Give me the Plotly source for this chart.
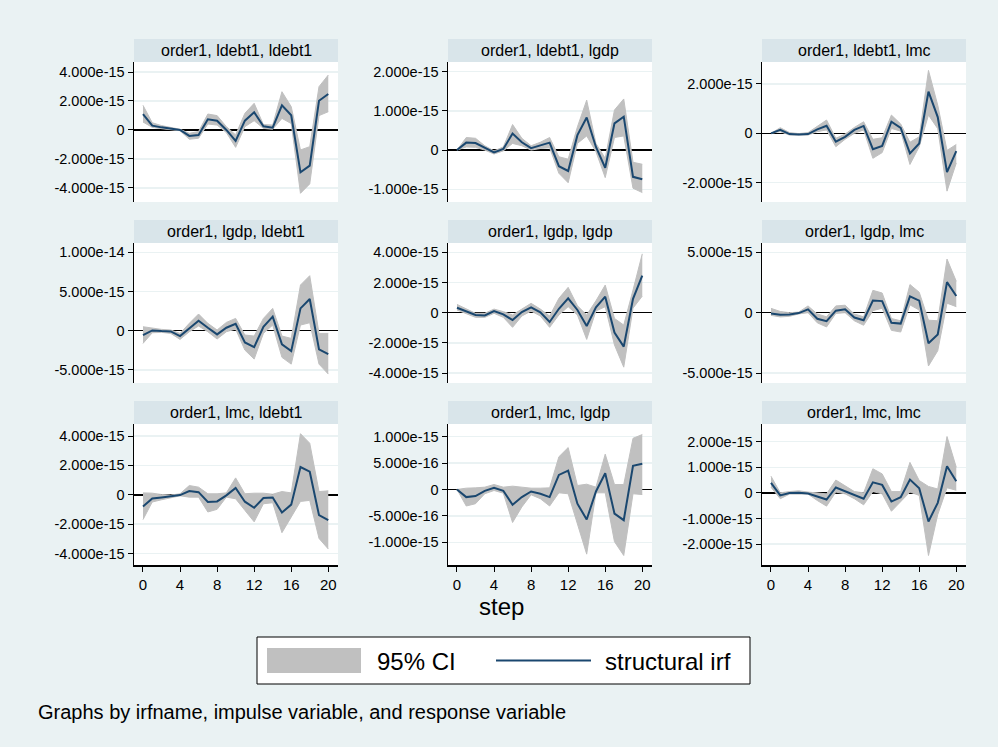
import plotly.graph_objects as go

# ---------------- data (in units of 1e-15) -------------
UNIT = 1e-15
steps = list(range(21))
xtick_vals = [0, 4, 8, 12, 16, 20]

titles = ["order1, ldebt1, ldebt1", "order1, ldebt1, lgdp", "order1, ldebt1, lmc",
          "order1, lgdp, ldebt1", "order1, lgdp, lgdp", "order1, lgdp, lmc",
          "order1, lmc, ldebt1", "order1, lmc, lgdp", "order1, lmc, lmc"]

irf_ldebt1_ldebt1 = [1.10, 0.30, 0.18, 0.09, 0.00, -0.41, -0.35, 0.74, 0.64, 0.00, -0.76, 0.64, 1.22, 0.25, 0.16, 1.70, 1.01, -2.92, -2.46, 2.02, 2.48]
lo_ldebt1_ldebt1 = [0.55, 0.18, 0.09, 0.02, -0.05, -0.64, -0.57, 0.41, 0.34, -0.18, -1.20, 0.23, 0.64, 0.11, 0.05, 0.80, 0.44, -4.37, -3.72, 0.99, 1.26]
hi_ldebt1_ldebt1 = [1.70, 0.50, 0.30, 0.16, 0.05, -0.23, -0.11, 1.10, 0.99, 0.23, -0.34, 1.15, 1.84, 0.37, 0.34, 2.64, 1.61, -1.38, -1.15, 2.99, 3.79]

irf_ldebt1_lgdp = [0.00, 0.19, 0.18, 0.05, -0.06, 0.03, 0.42, 0.20, 0.05, 0.12, 0.19, -0.41, -0.53, 0.38, 0.83, 0.08, -0.45, 0.68, 0.85, -0.68, -0.74]
lo_ldebt1_lgdp = [0.00, 0.08, 0.07, 0.00, -0.10, -0.02, 0.17, 0.11, 0.00, 0.04, 0.06, -0.59, -0.83, 0.17, 0.36, -0.04, -0.70, 0.32, 0.36, -0.97, -1.08]
hi_ldebt1_lgdp = [0.00, 0.32, 0.30, 0.11, -0.02, 0.08, 0.65, 0.30, 0.11, 0.20, 0.32, -0.17, -0.23, 0.59, 1.27, 0.17, -0.21, 1.02, 1.30, -0.31, -0.36]

irf_ldebt1_lmc = [0.00, 0.14, -0.03, -0.05, -0.03, 0.16, 0.31, -0.34, -0.14, 0.14, 0.30, -0.64, -0.51, 0.47, 0.22, -0.81, -0.41, 1.69, 0.66, -1.57, -0.72]
lo_ldebt1_lmc = [0.00, 0.07, -0.07, -0.08, -0.07, 0.07, 0.14, -0.54, -0.24, 0.00, 0.14, -1.01, -0.78, 0.20, 0.09, -1.26, -0.54, 0.74, 0.19, -2.34, -1.20]
hi_ldebt1_lmc = [0.00, 0.23, 0.03, -0.01, 0.03, 0.30, 0.54, -0.20, -0.03, 0.24, 0.47, -0.24, -0.18, 0.74, 0.38, -0.36, -0.14, 2.55, 1.14, -0.69, -0.45]

irf_lgdp_ldebt1 = [-0.55, 0.04, -0.04, -0.09, -0.68, 0.30, 1.28, 0.38, -0.47, 0.38, 0.89, -1.49, -2.09, 0.51, 1.79, -1.74, -2.60, 2.85, 4.04, -2.38, -2.98]
lo_lgdp_ldebt1 = [-1.62, -0.26, -0.21, -0.34, -1.11, -0.13, 0.60, -0.13, -1.06, -0.13, 0.21, -2.47, -3.62, -0.34, 0.72, -3.40, -4.26, 0.72, 1.02, -4.26, -5.53]
hi_lgdp_ldebt1 = [0.51, 0.30, 0.17, 0.09, -0.34, 0.94, 2.13, 0.94, 0.09, 1.06, 1.57, -0.55, -0.68, 1.57, 2.85, -0.68, -0.98, 5.83, 7.02, -0.34, -0.34]

irf_lgdp_lgdp = [0.33, 0.09, -0.15, -0.18, 0.11, -0.11, -0.49, 0.04, 0.35, 0.02, -0.62, 0.26, 0.95, 0.18, -0.88, 0.35, 1.06, -1.32, -2.25, 0.92, 2.45]
lo_lgdp_lgdp = [0.18, -0.04, -0.31, -0.31, -0.04, -0.31, -0.97, -0.22, 0.11, -0.22, -0.97, -0.15, 0.40, -0.15, -1.77, 0.11, 0.40, -2.14, -3.61, 0.30, 1.10]
hi_lgdp_lgdp = [0.55, 0.24, -0.04, -0.04, 0.24, 0.07, -0.15, 0.24, 0.62, 0.24, -0.22, 0.95, 1.68, 0.46, -0.15, 0.79, 1.83, -0.38, -0.82, 1.50, 3.90]

irf_lgdp_lmc = [-0.06, -0.17, -0.14, -0.03, 0.28, -0.50, -0.70, 0.17, 0.28, -0.40, -0.62, 1.00, 0.96, -0.84, -0.90, 1.35, 1.00, -2.53, -1.80, 2.53, 1.38]
lo_lgdp_lmc = [-0.22, -0.35, -0.30, -0.10, 0.00, -0.84, -1.18, -0.06, 0.00, -0.67, -1.04, 0.17, 0.37, -1.46, -1.60, 0.65, 0.22, -4.41, -3.15, 0.79, 0.50]
hi_lgdp_lmc = [0.36, 0.10, 0.00, 0.05, 0.56, -0.11, -0.34, 0.56, 0.62, -0.11, -0.34, 1.85, 1.63, -0.48, -0.67, 2.33, 1.69, -0.62, -0.67, 4.44, 2.60]

irf_lmc_ldebt1 = [-0.79, -0.25, -0.18, -0.09, -0.02, 0.25, 0.18, -0.49, -0.45, -0.04, 0.47, -0.47, -0.88, -0.22, -0.18, -1.21, -0.67, 1.89, 1.57, -1.39, -1.73]
lo_lmc_ldebt1 = [-1.69, -0.49, -0.34, -0.18, -0.07, -0.16, -0.16, -1.17, -0.99, -0.16, -0.27, -1.06, -1.84, -0.61, -0.54, -2.58, -1.51, -0.45, -0.38, -2.97, -3.69]
hi_lmc_ldebt1 = [0.13, 0.11, 0.02, -0.02, 0.07, 0.63, 0.52, 0.07, 0.07, 0.13, 1.15, 0.07, 0.11, 0.11, 0.04, 0.22, 0.13, 4.16, 3.51, 0.22, 0.27]

irf_lmc_lgdp = [0.000, -0.144, -0.125, -0.025, 0.031, -0.025, -0.288, -0.144, -0.038, -0.081, -0.144, 0.275, 0.356, -0.269, -0.569, -0.038, 0.306, -0.456, -0.581, 0.450, 0.487]
lo_lmc_lgdp = [0.000, -0.313, -0.269, -0.081, -0.019, -0.069, -0.625, -0.331, -0.100, -0.175, -0.313, -0.063, -0.081, -0.675, -1.225, -0.063, -0.063, -0.988, -1.250, -0.081, -0.096]
hi_lmc_lgdp = [0.000, 0.025, 0.031, 0.044, 0.094, 0.044, 0.063, 0.044, 0.025, 0.025, 0.031, 0.619, 0.794, 0.075, 0.100, 0.044, 0.669, 0.094, 0.094, 0.969, 1.040]

irf_lmc_lmc = [0.39, -0.10, -0.01, 0.00, -0.03, -0.14, -0.26, 0.21, 0.06, -0.10, -0.23, 0.41, 0.31, -0.34, -0.17, 0.52, 0.18, -1.12, -0.39, 1.04, 0.45]
lo_lmc_lmc = [0.22, -0.23, -0.05, -0.04, -0.05, -0.30, -0.52, 0.03, -0.04, -0.23, -0.47, 0.05, -0.04, -0.72, -0.36, 0.03, -0.10, -2.45, -0.85, 0.20, 0.10]
hi_lmc_lmc = [0.65, 0.00, 0.05, 0.08, 0.03, 0.00, -0.04, 0.50, 0.26, 0.05, 0.00, 0.94, 0.74, 0.05, 0.05, 1.19, 0.48, 0.25, 0.15, 2.20, 1.00]

yticks_ldebt1_ldebt1 = [-4e-15, -2e-15, 0, 2e-15, 4e-15]
yticks_ldebt1_lgdp = [-1e-15, 0, 1e-15, 2e-15]
yticks_ldebt1_lmc = [-2e-15, 0, 2e-15]
yticks_lgdp_ldebt1 = [-5e-15, 0, 5e-15, 1e-14]
yticks_lgdp_lgdp = [-4e-15, -2e-15, 0, 2e-15, 4e-15]
yticks_lgdp_lmc = [-5e-15, 0, 5e-15]
yticks_lmc_ldebt1 = [-4e-15, -2e-15, 0, 2e-15, 4e-15]
yticks_lmc_lgdp = [-1e-15, -5e-16, 0, 5e-16, 1e-15]
yticks_lmc_lmc = [-2e-15, -1e-15, 0, 1e-15, 2e-15]

panels = [
    (irf_ldebt1_ldebt1, lo_ldebt1_ldebt1, hi_ldebt1_ldebt1, yticks_ldebt1_ldebt1),
    (irf_ldebt1_lgdp, lo_ldebt1_lgdp, hi_ldebt1_lgdp, yticks_ldebt1_lgdp),
    (irf_ldebt1_lmc, lo_ldebt1_lmc, hi_ldebt1_lmc, yticks_ldebt1_lmc),
    (irf_lgdp_ldebt1, lo_lgdp_ldebt1, hi_lgdp_ldebt1, yticks_lgdp_ldebt1),
    (irf_lgdp_lgdp, lo_lgdp_lgdp, hi_lgdp_lgdp, yticks_lgdp_lgdp),
    (irf_lgdp_lmc, lo_lgdp_lmc, hi_lgdp_lmc, yticks_lgdp_lmc),
    (irf_lmc_ldebt1, lo_lmc_ldebt1, hi_lmc_ldebt1, yticks_lmc_ldebt1),
    (irf_lmc_lgdp, lo_lmc_lgdp, hi_lmc_lgdp, yticks_lmc_lgdp),
    (irf_lmc_lmc, lo_lmc_lmc, hi_lmc_lmc, yticks_lmc_lmc),
]

# ---------------- layout / style -------------
W, H = 998, 747
FONT = "Liberation Sans, Arial, Helvetica, sans-serif"
BG = "#EAF2F3"
HEADER = "#D9E5EA"
NAVY = "#1A476F"
GRAY = "rgb(192,192,192)"

# y ranges per panel (in units of 1e-15), chosen to match the plot regions
yranges = [(-4.97, 4.69), (-1.32, 2.24), (-2.78, 2.89),
           (-6.67, 11.19), (-4.66, 4.62), (-5.82, 5.77),
           (-4.78, 4.82), (-1.43, 1.24), (-2.82, 2.69)]
col_left = [134, 448, 762]
PW = 204
row_top = [62, 243, 424]
row_bot = [202, 383, 565]
HDR = 23


def px(x):
    return x / W


def py(y):
    return 1 - y / H


def fmt(v):
    return "0" if v == 0 else f"{v:.3e}"


fig = go.Figure()
layout = dict(
    width=W, height=H, margin=dict(l=0, r=0, t=0, b=0),
    paper_bgcolor=BG, plot_bgcolor="white", showlegend=False,
    font=dict(family=FONT, color="black", size=15),
)
shapes = []
annotations = []

for i, (irf, lo, hi, yt) in enumerate(panels):
    r, c = divmod(i, 3)
    n = i + 1
    xa, ya = f"x{n}", f"y{n}"
    lo_v = [v * UNIT for v in lo]
    hi_v = [v * UNIT for v in hi]
    irf_v = [v * UNIT for v in irf]
    fig.add_trace(go.Scatter(x=steps, y=lo_v, mode="lines", line=dict(color=GRAY, width=1),
                             xaxis=xa, yaxis=ya, hoverinfo="skip", name="95% CI"))
    fig.add_trace(go.Scatter(x=steps, y=hi_v, mode="lines", line=dict(color=GRAY, width=1),
                             fill="tonexty", fillcolor=GRAY, xaxis=xa, yaxis=ya, name="95% CI"))
    fig.add_trace(go.Scatter(x=steps, y=irf_v, mode="lines", line=dict(color=NAVY, width=2),
                             xaxis=xa, yaxis=ya, name="structural irf"))

    x0, x1 = col_left[c], col_left[c] + PW
    y0, y1 = row_top[r], row_bot[r]
    bottom_row = (r == 2)
    xkey = "xaxis" if n == 1 else f"xaxis{n}"
    ykey = "yaxis" if n == 1 else f"yaxis{n}"
    layout[xkey] = dict(
        domain=[px(x0), px(x1)], anchor=ya, range=[-0.97, 21.05],
        showgrid=False, zeroline=False,
        showline=bottom_row, linecolor="black", linewidth=1.5,
        ticks="outside" if bottom_row else "", ticklen=5, tickcolor="black", tickwidth=1,
        tickvals=xtick_vals, showticklabels=bottom_row,
        tickfont=dict(size=15), fixedrange=True,
    )
    layout[ykey] = dict(
        domain=[py(y1), py(y0)], anchor=xa,
        range=[yranges[i][0] * UNIT, yranges[i][1] * UNIT],
        tickvals=yt, ticktext=[fmt(v) for v in yt],
        showgrid=True, gridcolor=BG, gridwidth=1.5,
        zeroline=True, zerolinecolor="black", zerolinewidth=1.5,
        showline=True, linecolor="black", linewidth=1.5,
        ticks="outside", ticklen=5, tickcolor="black", tickwidth=1,
        tickfont=dict(size=14.5), fixedrange=True,
    )
    # header strip
    shapes.append(dict(type="rect", xref="paper", yref="paper",
                       x0=px(x0), x1=px(x1), y0=py(y0), y1=py(y0 - HDR),
                       fillcolor=HEADER, line=dict(width=0), layer="below"))
    annotations.append(dict(text=titles[i], xref="paper", yref="paper",
                            x=px((x0 + x1) / 2), y=py(y0 - HDR / 2),
                            xanchor="center", yanchor="middle", showarrow=False,
                            font=dict(size=16)))

# x axis title
annotations.append(dict(text="step", xref="paper", yref="paper", x=px(502), y=py(606),
                        xanchor="center", yanchor="middle", showarrow=False,
                        font=dict(size=24)))

# legend (drawn as a Stata-style box)
shapes.append(dict(type="rect", xref="paper", yref="paper", x0=px(257), x1=px(750),
                   y0=py(684), y1=py(637), fillcolor="white", line=dict(color="black", width=1)))
shapes.append(dict(type="rect", xref="paper", yref="paper", x0=px(267), x1=px(361),
                   y0=py(673), y1=py(648), fillcolor=GRAY, line=dict(width=0)))
shapes.append(dict(type="line", xref="paper", yref="paper", x0=px(496), x1=px(591),
                   y0=py(660.5), y1=py(660.5), line=dict(color=NAVY, width=2)))
annotations.append(dict(text="95% CI", xref="paper", yref="paper", x=px(375), y=py(661),
                        xanchor="left", yanchor="middle", showarrow=False, font=dict(size=24)))
annotations.append(dict(text="structural irf", xref="paper", yref="paper", x=px(603), y=py(661),
                        xanchor="left", yanchor="middle", showarrow=False, font=dict(size=24)))

# note
annotations.append(dict(text="Graphs by irfname, impulse variable, and response variable",
                        xref="paper", yref="paper", x=px(36), y=py(712),
                        xanchor="left", yanchor="middle", showarrow=False, font=dict(size=20)))

layout["shapes"] = shapes
layout["annotations"] = annotations
fig.update_layout(**layout)
fig.write_html(
    "out.html",
    config={"displayModeBar": False, "staticPlot": True},
    post_script="document.body.style.margin='0';document.body.style.overflow='hidden';",
)
